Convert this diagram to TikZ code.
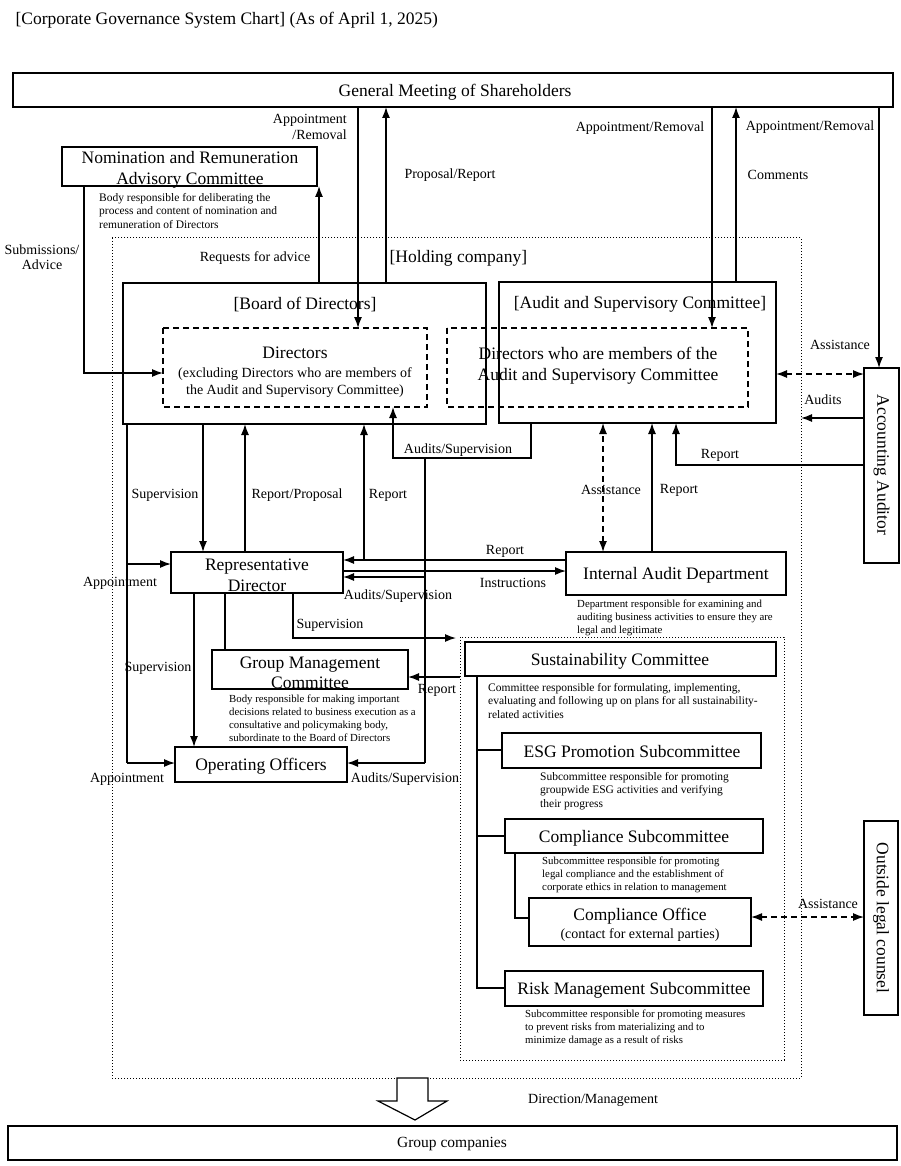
\documentclass[tikz,border=0pt]{standalone}
\usepackage{fontspec}
\setmainfont{Liberation Serif}
\usetikzlibrary{arrows.meta}
\begin{document}
\begin{tikzpicture}[x=1pt,y=-1pt,
  box/.style={draw,line width=1.4pt},
  dbox/.style={draw,line width=1.3pt,dash pattern=on 6pt off 4pt},
  dotbox/.style={draw,line width=1pt,dotted},
  big/.style={font=\fontsize{17.5}{20}\selectfont,align=center},
  lab/.style={font=\fontsize{14}{15.5}\selectfont,inner sep=1pt},
  desc/.style={font=\fontsize{11.5}{13.5}\selectfont,align=left,anchor=north west,inner sep=0pt},
  sdesc/.style={desc,font=\fontsize{10.8}{12.8}\selectfont},
  conn/.style={line width=1.3pt},
  arr/.style={conn,-{Latex[length=11pt,width=8pt]}},
  darr/.style={conn,dash pattern=on 6pt off 4pt,{Latex[length=11pt,width=8pt]}-{Latex[length=11pt,width=8pt]}}]
\useasboundingbox (0,0) rectangle (900,1166);
\node[anchor=west,font=\fontsize{17.5}{19}\selectfont] (title) at (12,20) {[Corporate Governance System Chart] (As of April 1, 2025)};
% boxes
\draw[box] (13,73) rectangle (893,107); \node[big] (gms) at (455,92) {General Meeting of Shareholders};
\draw[dotbox] (112,238) rectangle (801,1078);
\node[big,anchor=west] (hc) at (386,258) {[Holding company]};
\draw[box] (62,147) rectangle (317,186);
\node[big,font=\fontsize{17.5}{21}\selectfont] (nrac) at (190,170) {Nomination and Remuneration\\Advisory Committee};
\node[desc] (nracd) at (99,193) {Body responsible for deliberating the\\process and content of nomination and\\remuneration of Directors};
\draw[box] (123,283) rectangle (486,424); \node[big] (bod) at (305,305) {[Board of Directors]};
\draw[box] (499,282) rectangle (776,423); \node[big] (asc) at (640,304) {[Audit and Supervisory Committee]};
\draw[dbox] (163,328) rectangle (427,407);
\node[big] (dir) at (295,353) {Directors};
\node[font=\fontsize{14}{17}\selectfont,align=center] (dirs) at (295,383) {(excluding Directors who are members of\\the Audit and Supervisory Committee)};
\draw[dbox] (447,328) rectangle (748,407);
\node[big,font=\fontsize{17.5}{21}\selectfont] (ascd) at (598,366) {Directors who are members of the\\Audit and Supervisory Committee};
\draw[box] (864,368) rectangle (899,563);
\node[big,rotate=-90] (aa) at (881.5,465) {Accounting Auditor};
\draw[box] (864,821) rectangle (898,1015);
\node[big,rotate=-90] (olc) at (881,918) {Outside legal counsel};
\draw[box] (171,552) rectangle (343,593);
\node[big,font=\fontsize{17.5}{21}\selectfont] (rep) at (257,575) {Representative\\Director};
\draw[box] (566,552) rectangle (786,595); \node[big] (iad) at (676,575) {Internal Audit Department};
\node[sdesc] (iadd) at (577,600) {Department responsible for examining and\\auditing business activities to ensure they are\\legal and legitimate};
\draw[box] (212,650) rectangle (408,689);
\node[big,font=\fontsize{17.5}{20}\selectfont] (gmc) at (310,673) {Group Management\\Committee};
\node[sdesc] (gmcd) at (229,695) {Body responsible for making important\\decisions related to business execution as a\\consultative and policymaking body,\\subordinate to the Board of Directors};
\draw[box] (175,747) rectangle (347,782); \node[big] (oo) at (261,766) {Operating Officers};
\draw[dotbox] (460,637) rectangle (784,1060);
\draw[box] (465,642) rectangle (776,676); \node[big] (sc) at (620,661) {Sustainability Committee};
\node[desc] (scd) at (488,683) {Committee responsible for formulating, implementing,\\evaluating and following up on plans for all sustainability-\\related activities};
\draw[box] (502,733) rectangle (761,768); \node[big] (esg) at (632,752) {ESG Promotion Subcommittee};
\node[desc] (esgd) at (540,772) {Subcommittee responsible for promoting\\groupwide ESG activities and verifying\\their progress};
\draw[box] (505,819) rectangle (763,853); \node[big] (cs) at (634,838) {Compliance Subcommittee};
\node[sdesc] (csd) at (542,857) {Subcommittee responsible for promoting\\legal compliance and the establishment of\\corporate ethics in relation to management};
\draw[box] (529,898) rectangle (751,946);
\node[big] (co) at (640,916) {Compliance Office};
\node[font=\fontsize{14}{16}\selectfont] (cos) at (640,935) {(contact for external parties)};
\draw[box] (505,971) rectangle (763,1006); \node[big] (rm) at (634,990) {Risk Management Subcommittee};
\node[sdesc] (rmd) at (525,1010) {Subcommittee responsible for promoting measures\\to prevent risks from materializing and to\\minimize damage as a result of risks};
\draw[box] (8,1126) rectangle (897,1160); \node[font=\fontsize{15.5}{17}\selectfont] (gc) at (452,1144) {Group companies};
% block arrow
\draw[line width=1.2pt,fill=white] (397,1078) -- (428,1078) -- (428,1101) -- (447,1101) -- (415,1120) -- (378,1101) -- (397,1101) -- cycle;
\node[lab,anchor=west] (dm) at (527,1100) {Direction/Management};
% top connectors
\draw[arr] (358,107) -- (358,328);
\node[lab,align=right,anchor=east] (l1) at (348,127) {Appointment\\/Removal};
\draw[arr] (386,283) -- (386,107);
\node[lab] (l2) at (450,175) {Proposal/Report};
\draw[arr] (712,107) -- (712,328);
\node[lab] (l3) at (640,128) {Appointment/Removal};
\draw[arr] (736,282) -- (736,107);
\node[lab] (l4) at (810,127) {Appointment/Removal};
\node[lab] (l5) at (778,175) {Comments};
\draw[arr] (879,107) -- (879,368);
\draw[arr] (319,283) -- (319,186);
\node[lab] (l6) at (255,258) {Requests for advice};
\draw[arr] (84,186) -- (84,373) -- (163,373);
\node[lab,align=center] (l7) at (42,257) {Submissions/\\Advice};
\draw[darr] (776,374) -- (864,374);
\node[lab] (l8) at (840,345) {Assistance};
\draw[arr] (864,418) -- (801,418);
\node[lab] (l9) at (823,400) {Audits};
\draw[arr] (864,465) -- (676,465) -- (676,423);
\node[lab] (l10) at (720,455) {Report};
% middle
\draw[arr] (203,424) -- (203,552);
\node[lab] (l11) at (165,495) {Supervision};
\draw[arr] (245,552) -- (245,424);
\node[lab] (l12) at (297,495) {Report/Proposal};
\draw[arr] (566,560) -- (343,560);
\draw[arr] (364,560) -- (364,424);
\node[lab] (l13) at (388,495) {Report};
\node[lab] (l14) at (505,551) {Report};
\draw[arr] (343,571) -- (566,571);
\node[lab] (l15) at (513,583) {Instructions};
\draw[arr] (531,423) -- (531,458) -- (393,458) -- (393,407);
\node[lab] (l16) at (458,450) {Audits/Supervision};
\draw[conn] (425,458) -- (425,763);
\draw[arr] (425,577) -- (343,577);
\draw[arr] (425,763) -- (347,763);
\node[lab] (l17) at (398,596) {Audits/Supervision};
\node[lab] (l18) at (405,779) {Audits/Supervision};
\draw[conn] (127,424) -- (127,763);
\draw[arr] (127,564) -- (171,564);
\draw[arr] (127,763) -- (175,763);
\node[lab] (l19) at (120,583) {Appointment};
\node[lab] (l20) at (127,779) {Appointment};
\draw[arr] (194,593) -- (194,747);
\node[lab] (l21) at (158,668) {Supervision};
\draw[conn] (225,593) -- (225,650);
\draw[arr] (293,593) -- (293,638) -- (456,638);
\node[lab] (l22) at (330,625) {Supervision};
\draw[arr] (460,677) -- (408,677);
\node[lab] (l23) at (437,690) {Report};
\draw[darr] (603,552) -- (603,423);
\node[lab] (l24) at (611,490) {Assistance};
\draw[arr] (652,552) -- (652,423);
\node[lab] (l25) at (679,490) {Report};
% tree
\draw[conn] (477,676) -- (477,988) -- (505,988);
\draw[conn] (477,750) -- (502,750);
\draw[conn] (477,836) -- (505,836);
\draw[conn] (515,853) -- (515,918) -- (529,918);
\draw[darr] (751,917) -- (864,917);
\node[lab] (l26) at (828,904) {Assistance};
\end{tikzpicture}
\end{document}
